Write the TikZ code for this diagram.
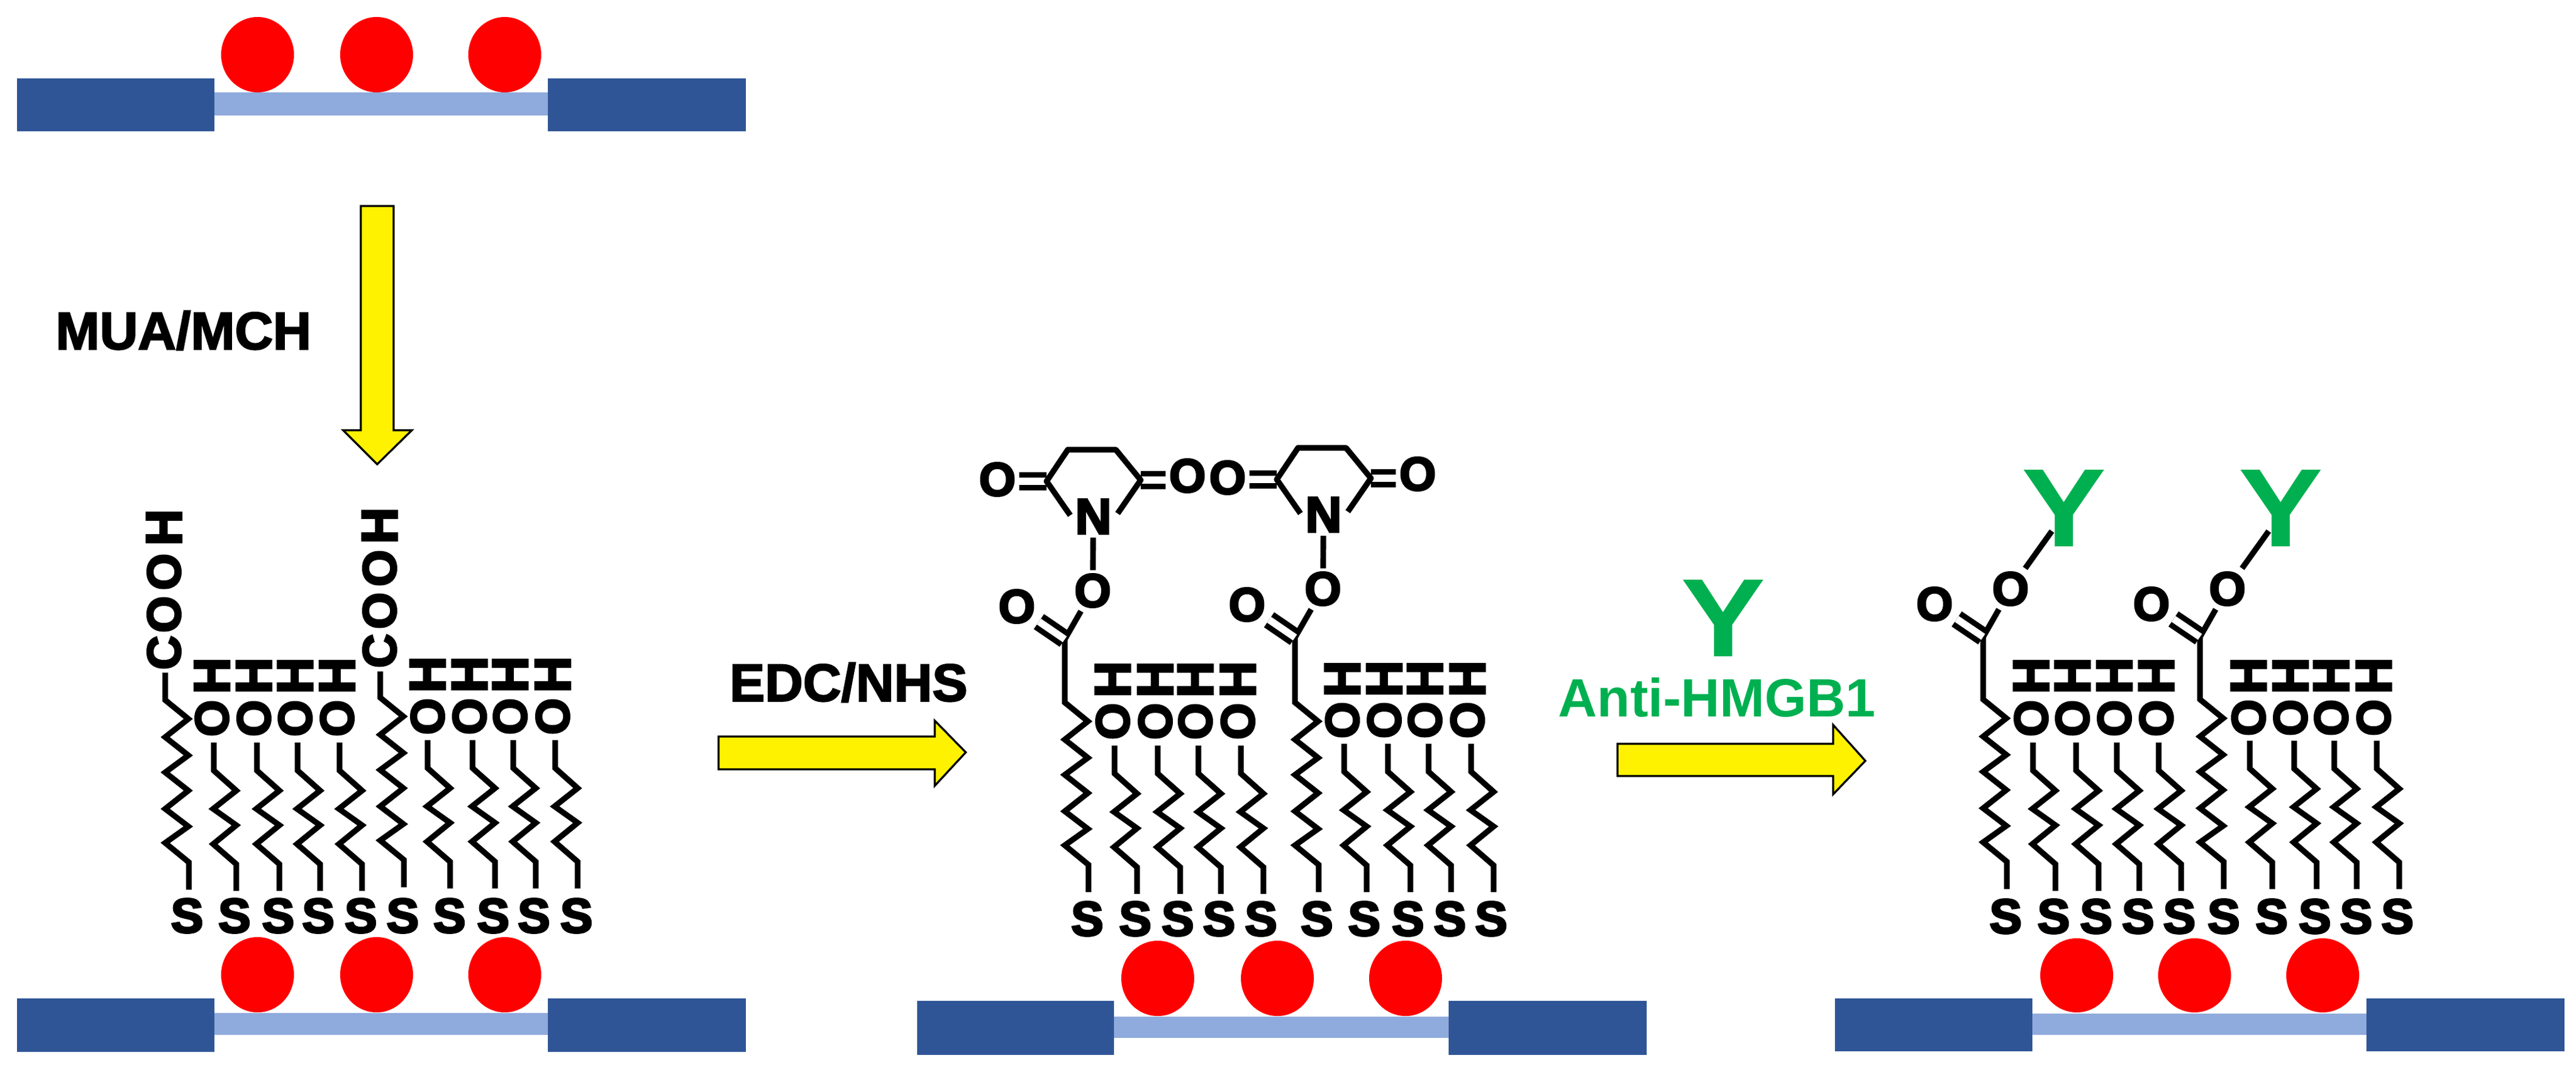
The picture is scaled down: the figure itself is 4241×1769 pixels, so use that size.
\documentclass[tikz,border=0pt]{standalone}
\usepackage{fontspec}
\setmainfont{Liberation Sans}
\newfontfamily\heavyfont[FakeBold=4]{Liberation Sans Bold}
\newfontfamily\semifont[FakeBold=2.5]{Liberation Sans Bold}
\newcommand{\fsz}[1]{\fontsize{#1}{#1}\selectfont\bfseries}
\newcommand{\hsz}[1]{\fontsize{#1}{#1}\selectfont\heavyfont}
\newcommand{\msz}[1]{\fontsize{#1}{#1}\selectfont\semifont}
\definecolor{goldblue}{HTML}{2F5597}
\definecolor{paleblue}{HTML}{8FAADC}
\definecolor{abgreen}{HTML}{00B050}
\tikzset{
  bond/.style={line width=2.25pt,line join=miter,line cap=butt,black},
  dbl/.style={line width=2.2pt,double=white,double distance=2.8pt,black},
  atom/.style={inner sep=0pt,outer sep=1.5pt,text=black},
  atomS/.style={atom,font=\hsz{19.2}},
  atomN/.style={atom,font=\hsz{19.8}},
  atomH/.style={atom,font=\hsz{20},rotate=90},
  atomO/.style={atom,font=\hsz{18.6},rotate=90},
  lab/.style={inner sep=0pt,font=\msz{20.9}},
  ylw/.style={draw=black,line width=0.8pt,fill=yellow,line join=miter},
  gold/.style={fill=goldblue,draw=none},
  pale/.style={fill=paleblue,draw=none},
  np/.style={fill=red,draw=none},
  ab/.style={inner sep=0pt,font=\fsz{44},text=abgreen,xscale=1.14,transform shape},
}
\newcommand{\shortch}[2]{% x bottom, y top
  \draw[bond] (#1,#2+244)--(#1,#2+200)--(#1-38,#2+167)--(#1,#2+136)--(#1-38,#2+109)
    --(#1,#2+79)--(#1-37,#2+46)--(#1-37,#2);
}
\newcommand{\longch}[3]{% x of upper vertical, y bottom, y top
  \draw[bond] (#1+39,#2)--(#1+39,#2-45)--(#1,#2-77)--(#1+38,#2-104)--(#1,#2-133)
    --(#1+38,#2-163)--(#1,#2-193)--(#1+38,#2-221)--(#1,#2-251)--(#1+38,#2-281)
    --(#1,#2-312)--(#1,#3);
}
\begin{document}
\begin{tikzpicture}[x=0.24pt,y=-0.24pt]
\useasboundingbox (0,0) rectangle (4241,1769);
\fill[white] (0,0) rectangle (4241,1769);

%%%%% top chip
\fill[pale] (353,152) rectangle (902,190);
\fill[gold] (28,129) rectangle (353,216);
\fill[gold] (902,129) rectangle (1228,216);
\foreach \x in {424,620,831} {\fill[np] (\x,90) ellipse [x radius=60,y radius=62];}

%%%%% arrows
\draw[ylw] (594,339)--(648,339)--(648,708)--(678,708)--(621,764)--(565,708)--(594,708)--cycle;
\draw[ylw] (1183,1212)--(1539,1212)--(1539,1186)--(1590,1238)--(1539,1293)--(1539,1266)--(1183,1266)--cycle;
\draw[ylw] (2663,1224)--(3018,1224)--(3018,1193)--(3071,1252)--(3018,1307)--(3018,1277)--(2663,1277)--cycle;

%%%%% labels
\node[lab] (mua) at (302,544) {MUA/MCH};
\node[lab] (edc) at (1397,1123) {EDC/NHS};
\node[lab,text=abgreen,font=\fsz{21.3}] (anti) at (2827,1148) {Anti-HMGB1};
\node[ab] (ymid) at (2837,1017) {Y};

%%%%% left cluster
\fill[pale] (353,1667) rectangle (902,1703);
\fill[gold] (28,1643) rectangle (353,1731);
\fill[gold] (902,1643) rectangle (1228,1731);
\foreach \x in {424,620,831} {\fill[np] (\x,1604) ellipse [x radius=60,y radius=62];}
\foreach \x [count=\i] in {308,386,458,524,594,663,740,812,879,949}
  {\node[atomS] (la\i) at (\x,1507) {S};}
\longch{272}{1464}{1107}
\longch{626}{1460}{1105}
\foreach \x in {389,460,527,596} {\shortch{\x}{1222}}
\foreach \x in {741,815,882,951} {\shortch{\x}{1218}}
\foreach \x [count=\i] in {349,418,486,555} {
  \node[atomO] (lo\i) at (\x,1182) {O};
  \node[atomH] (lh\i) at (\x,1112) {H};
}
\foreach \x [count=\i] in {704,773,840,910} {
  \node[atomO] (lp\i) at (\x,1179) {O};
  \node[atomH] (lq\i) at (\x,1110) {H};
}
\node[atomO] (c1) at (270,1074) {C};
\node[atomO] (c1a) at (270,1011) {O};
\node[atomO] (c1b) at (270,941) {O};
\node[atomH] (c1c) at (270,868) {H};
\node[atomO] (c2) at (625,1071) {C};
\node[atomO] (c2a) at (625,1005) {O};
\node[atomO] (c2b) at (625,935) {O};
\node[atomH] (c2c) at (625,865) {H};

%%%%% middle cluster
\fill[pale] (1834,1673) rectangle (2385,1708);
\fill[gold] (1510,1647) rectangle (1834,1736);
\fill[gold] (2385,1647) rectangle (2711,1736);
\foreach \x in {1906,2103,2314} {\fill[np] (\x,1610) ellipse [x radius=60,y radius=62];}
\foreach \x [count=\i] in {1790,1869,1939,2007,2076,2168,2246,2318,2387,2455}
  {\node[atomS] (ma\i) at (\x,1512) {S};}
\longch{1753}{1468}{1052}
\longch{2132}{1468}{1049}
\foreach \x in {1872,1943,2010,2080} {\shortch{\x}{1227}}
\foreach \x in {2250,2322,2389,2459} {\shortch{\x}{1224}}
\foreach \x [count=\i] in {1832,1902,1968,2038} {
  \node[atomO] (mo\i) at (\x,1187) {O};
  \node[atomH] (mh\i) at (\x,1118) {H};
}
\foreach \x [count=\i] in {2210,2279,2346,2416} {
  \node[atomO] (mp\i) at (\x,1185) {O};
  \node[atomH] (mq\i) at (\x,1117) {H};
}
\foreach \n/\dx/\dy in {A/0/0,B/379/-3} {
  \begin{scope}[shift={(1800+\dx,850+\dy)}]
    \node[atomN] (N\n) at (0,0) {N};
    \coordinate (ra\n) at (-38,-2);
    \coordinate (rb\n) at (-77,-58);
    \coordinate (rc\n) at (-42,-110);
    \coordinate (rd\n) at (37,-110);
    \coordinate (re\n) at (78,-60);
    \coordinate (rf\n) at (40,-5);
    \node[atomO,rotate=-90] (Ol\n) at (-158,-61) {O};
    \node[atomO,rotate=-90] (Or\n) at (155,-67) {O};
    \node[atomO,rotate=-90] (Oe\n) at (-1,122) {O};
    \node[atomO,rotate=-90] (Oc\n) at (-126,148) {O};
    \coordinate (C\n) at (-47,202);
    \draw[dbl] (rb\n) -- (rb\n -| Ol\n.east);
    \draw[dbl] (re\n) -- (re\n -| Or\n.west);
    \draw[bond,line join=round] (ra\n)--(rb\n)--(rc\n)--(rd\n)--(re\n)--(rf\n);
    \draw[bond] (N\n)--(Oe\n);
    \draw[bond] (C\n)--(Oe\n);
    \draw[dbl] (C\n)--(Oc\n);
  \end{scope}
}

%%%%% right cluster
\fill[pale] (3346,1668) rectangle (3896,1703);
\fill[gold] (3021,1643) rectangle (3346,1730);
\fill[gold] (3896,1643) rectangle (4222,1730);
\foreach \x in {3419,3613,3824} {\fill[np] (\x,1605) ellipse [x radius=60,y radius=61];}
\foreach \x [count=\i] in {3302,3381,3451,3520,3588,3661,3740,3811,3879,3947}
  {\node[atomS] (ra\i) at (\x,1508) {S};}
\longch{3265}{1463}{1048}
\longch{3622}{1463}{1046}
\foreach \x in {3384,3455,3522,3591} {\shortch{\x}{1222}}
\foreach \x in {3741,3814,3880,3950} {\shortch{\x}{1219}}
\foreach \x [count=\i] in {3344,3412,3481,3550} {
  \node[atomO] (so\i) at (\x,1182) {O};
  \node[atomH] (sh\i) at (\x,1112) {H};
}
\foreach \x [count=\i] in {3702,3771,3838,3908} {
  \node[atomO] (sp\i) at (\x,1181) {O};
  \node[atomH] (sq\i) at (\x,1112) {H};
}
\foreach \n/\dx in {A/0,B/357} {
  \begin{scope}[shift={(\dx,0)}]
    \node[atomO,rotate=-90] (Pe\n) at (3310,969) {O};
    \node[atomO,rotate=-90] (Pc\n) at (3185,994) {O};
    \coordinate (Pk\n) at (3265,1048);
    \node[ab] (Y\n) at (3398,836) {Y};
    \coordinate (Pa\n) at (3378,874);
    \draw[bond] (Pk\n)--(Pe\n);
    \draw[dbl] (Pk\n)--(Pc\n);
    \draw[bond] (Pe\n)--(Pa\n);
  \end{scope}
}
\end{tikzpicture}
\end{document}
